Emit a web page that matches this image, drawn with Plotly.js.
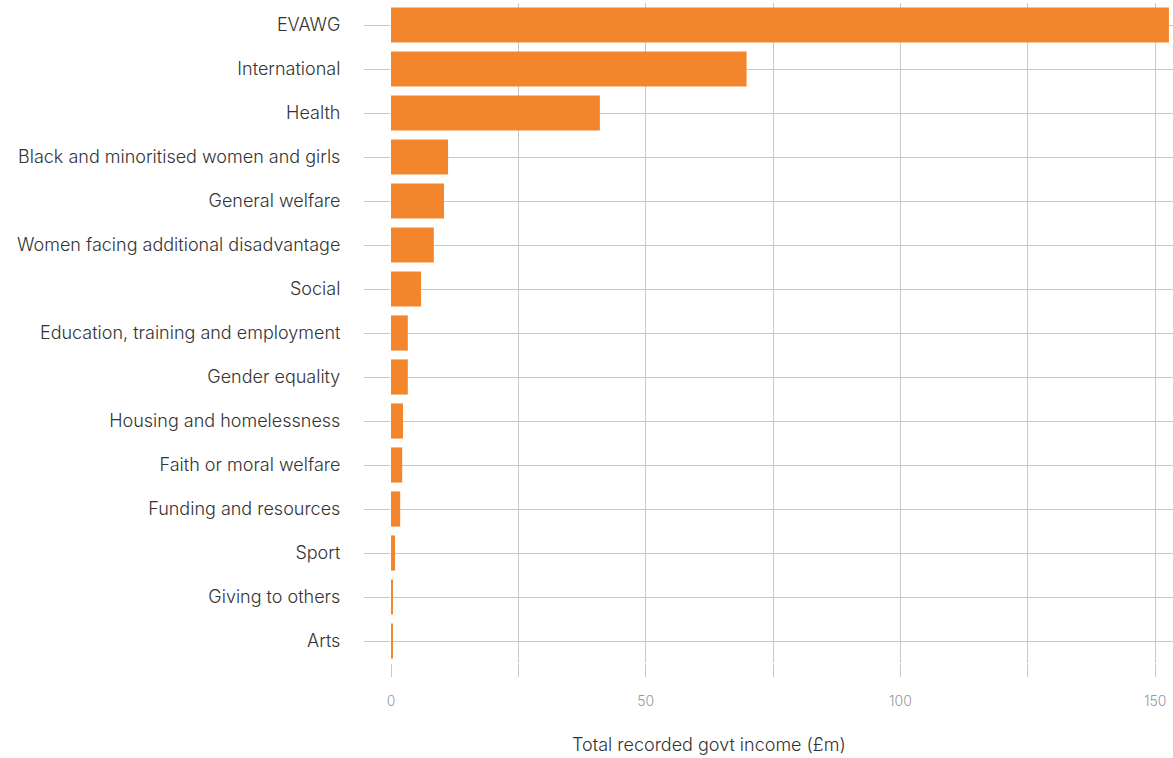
<!DOCTYPE html>
<html>
<head>
<meta charset="utf-8">
<script src="https://cdn.plot.ly/plotly-3.0.1.min.js"></script>
<style>html,body{margin:0;padding:0;background:#fff;}#chart{width:1173px;height:758px;}</style>
</head>
<body>
<div id="chart"></div>
<script>
const categories = [
  "EVAWG",
  "International",
  "Health",
  "Black and minoritised women and girls",
  "General welfare",
  "Women facing additional disadvantage",
  "Social",
  "Education, training and employment",
  "Gender equality",
  "Housing and homelessness",
  "Faith or moral welfare",
  "Funding and resources",
  "Sport",
  "Giving to others",
  "Arts"
];
const incomeMillions = [152.7, 69.8, 41.0, 11.2, 10.4, 8.4, 5.9, 3.3, 3.3, 2.35, 2.2, 1.8, 0.8, 0.2, 0.2];
const xTickValues = [0, 50, 100, 150];
const xTitle = 'Total recorded govt income (£m)';

const trace = {
  type: 'bar',
  orientation: 'h',
  x: incomeMillions,
  y: categories,
  marker: {color: '#f3852d', line: {width: 0}},
  hoverinfo: 'x+y'
};

const layout = {
  width: 1173,
  height: 758,
  margin: {l: 391, r: 0, t: 3, b: 95},
  paper_bgcolor: '#fff',
  plot_bgcolor: '#fff',
  font: {family: 'Inter, "Open Sans", sans-serif', color: '#333', size: 18, weight: 300},
  bargap: 0.2,
  showlegend: false,
  xaxis: {
    range: [0, 153.5],
    tickvals: xTickValues,
    ticktext: xTickValues.map(String),
    ticks: 'outside',
    ticklen: 13,
    tickcolor: '#c8c8c8',
    tickfont: {size: 14, color: '#999', weight: 300},
    ticklabelstandoff: 12,
    showgrid: true,
    gridcolor: '#c8c8c8',
    zeroline: false,
    showline: false,
    minor: {dtick: 25, tick0: 0, ticks: 'outside', ticklen: 13, tickcolor: '#c8c8c8', showgrid: true, gridcolor: '#c8c8c8'},
    fixedrange: true
  },
  yaxis: {
    type: 'category',
    autorange: 'reversed',
    ticks: 'outside',
    ticklen: 26,
    tickcolor: '#c8c8c8',
    showgrid: true,
    gridcolor: '#c8c8c8',
    ticklabelstandoff: 20,
    tickfont: {size: 18, color: '#333', weight: 300},
    showline: false,
    fixedrange: true
  },
  annotations: [{
    text: xTitle,
    xref: 'paper', yref: 'paper',
    x: 0.4066, y: -0.124,
    xanchor: 'center', yanchor: 'middle',
    showarrow: false,
    font: {size: 18, color: '#333', weight: 300}
  }]
};

Plotly.newPlot('chart', [trace], layout, {displayModeBar: false, responsive: false});
</script>
</body>
</html>
